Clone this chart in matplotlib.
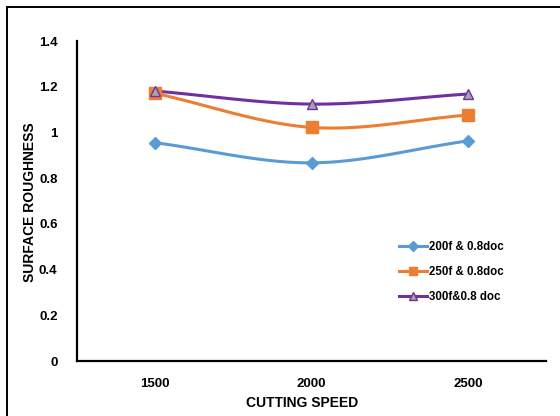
import numpy as np
import matplotlib
matplotlib.use("Agg")
import matplotlib.pyplot as plt
from matplotlib.patches import Rectangle
from matplotlib import font_manager

speeds = ["1500", "2000", "2500"]
rough_200f = [0.955, 0.867, 0.963]
rough_250f = [1.171, 1.022, 1.076]
rough_300f = [1.181, 1.124, 1.168]
series_labels = ["200f & 0.8doc", "250f & 0.8doc", "300f&0.8 doc"]
y_ticks = [0, 0.2, 0.4, 0.6, 0.8, 1, 1.2, 1.4]

names = {f.name for f in font_manager.fontManager.ttflist}
family = ["Liberation Sans Narrow", "DejaVu Sans"] if "Liberation Sans Narrow" in names else ["Liberation Sans", "DejaVu Sans"]
plt.rcParams["font.family"] = family
plt.rcParams["font.weight"] = "bold"


def smooth(xs, ys, n=40):
    """Catmull-Rom curve through the points, like a smoothed line chart."""
    xs = np.asarray(xs, float)
    ys = np.asarray(ys, float)
    px = np.concatenate([[2 * xs[0] - xs[1]], xs, [2 * xs[-1] - xs[-2]]])
    py = np.concatenate([[2 * ys[0] - ys[1]], ys, [2 * ys[-1] - ys[-2]]])
    ox, oy = [], []
    for i in range(1, len(px) - 2):
        t = np.linspace(0, 1, n)
        t2, t3 = t * t, t * t * t
        for p, out in ((px, ox), (py, oy)):
            p0, p1, p2, p3 = p[i - 1], p[i], p[i + 1], p[i + 2]
            out.extend(0.5 * (2 * p1 + (-p0 + p2) * t + (2 * p0 - 5 * p1 + 4 * p2 - p3) * t2
                              + (-p0 + 3 * p1 - 3 * p2 + p3) * t3))
    return np.array(ox), np.array(oy)


fig = plt.figure(figsize=(5.6, 4.16), dpi=100)
ax = fig.add_axes([77 / 560, 1 - 361 / 416, (546 - 77) / 560, 320 / 416])

# Outer chart frame (cropped at the right and bottom)
fig.patches.append(Rectangle((7 / 560, -0.05), 1.1, 1 - 7 / 416 + 0.05,
                             transform=fig.transFigure, fill=False,
                             edgecolor="black", linewidth=1.4))

x = np.arange(len(speeds))
styles = [
    (rough_200f, "#5B9BD5", "D", 6, "#5B9BD5", "#5B9BD5"),
    (rough_250f, "#ED7D31", "s", 8, "#ED7D31", "#ED7D31"),
    (rough_300f, "#7030A0", "^", 7.5, "#A5A5A5", "#7030A0"),
]
handles = []
for (vals, col, mk, ms, fc, ec), lab in zip(styles, series_labels):
    sx, sy = smooth(x, vals)
    ax.plot(sx, sy, color=col, linewidth=2.2, solid_capstyle="round", zorder=2)
    ax.plot(x, vals, linestyle="none", marker=mk, markersize=ms,
            markerfacecolor=fc, markeredgecolor=ec, markeredgewidth=1, zorder=3)
    h, = ax.plot([], [], color=col, linewidth=2.2, marker=mk, markersize=ms * 0.8,
                 markerfacecolor=fc, markeredgecolor=ec, label=lab)
    handles.append(h)

ax.set_xlim(-0.5, 2.5)
ax.set_ylim(0, 1.4)
ax.set_xticks(x)
ax.set_xticklabels(speeds)
ax.set_yticks(y_ticks)
ax.set_yticklabels([f"{v:g}" for v in y_ticks])
ax.tick_params(length=0, labelsize=9.5, pad=14)
ax.tick_params(axis="x", pad=12)
for lab in ax.get_xticklabels() + ax.get_yticklabels():
    lab.set_fontweight("bold")
for side in ("top", "right"):
    ax.spines[side].set_visible(False)
for side in ("left", "bottom"):
    ax.spines[side].set_linewidth(1.6)
    ax.spines[side].set_color("black")

fig.text(302 / 560, 1 - 403 / 416, "CUTTING SPEED", ha="center", va="center",
         fontsize=10, fontweight="bold")
fig.text(30 / 560, 1 - 202 / 416, "SURFACE ROUGHNESS", ha="center", va="center",
         rotation=90, fontsize=10, fontweight="bold")

leg = ax.legend(handles=handles, loc="upper left",
                bbox_to_anchor=((394 - 77) / 469, (361 - 236) / 320),
                frameon=False, fontsize=8.3, handlelength=2.5, handletextpad=0.1,
                labelspacing=1.15, borderaxespad=0)
for t in leg.get_texts():
    t.set_fontweight("bold")

fig.savefig("out.png", dpi=100)
